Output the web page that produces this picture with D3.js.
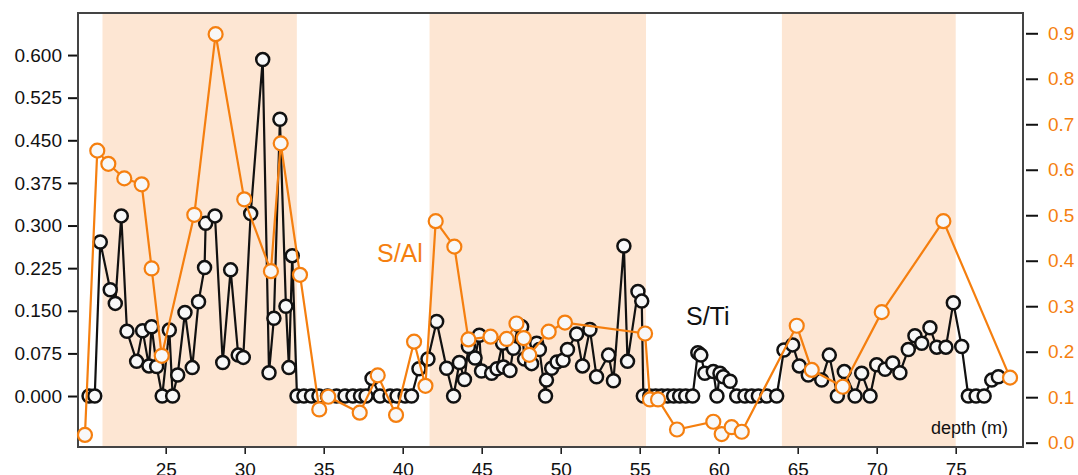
<!DOCTYPE html>
<html>
<head>
<meta charset="utf-8">
<script src="https://cdn.jsdelivr.net/npm/d3@7"></script>
<style>
  body { margin: 0; background: #fff; }
  text { font-family: "Liberation Sans", Arial, sans-serif; }
</style>
</head>
<body>
<div id="chart"></div>
<script>
// S/Ti series (black)
var depthTi = [20.15, 20.51, 20.86, 21.49, 21.81, 22.19, 22.55, 23.16, 23.54, 23.94, 24.11, 24.43, 24.78, 25.23, 25.44, 25.76, 26.22, 26.68, 27.08, 27.46, 27.53, 28.12, 28.61, 29.11, 29.59, 29.91, 30.38, 31.14, 31.54, 31.85, 32.23, 32.61, 32.80, 33.01,
  33.31, 33.75, 34.23, 34.70, 35.24, 35.81, 36.35, 36.85, 37.33, 37.68, 38.06, 38.56, 39.20, 39.64, 40.15, 40.56,
  41.03, 41.60, 42.15, 42.78, 43.22, 43.59, 43.91, 44.16, 44.58, 44.85, 44.99, 45.63, 45.97, 46.32, 46.38, 46.79, 47.01, 47.32, 47.53, 47.71, 48.16, 48.48, 48.65, 49.04, 49.10, 49.43, 49.77, 50.15, 50.43, 51.01, 51.38, 51.85, 52.27, 53.03, 53.34, 54.00, 54.23, 54.89, 55.13, 55.23,
  55.64, 56.01, 56.39, 56.77, 57.15, 57.53, 57.91, 58.35, 58.68, 58.87, 59.12, 59.66, 59.89, 60.08, 60.29, 60.72,
  61.14, 61.66, 62.09, 62.51, 63.04, 63.67, 64.13, 64.68, 65.10, 65.67, 66.52, 67.00, 67.51, 67.95, 68.63, 69.05, 69.58, 70.00, 70.53, 71.01, 71.47, 72.00, 72.42, 72.85, 73.37, 73.80, 74.38, 74.85, 75.38, 75.80, 76.29, 76.80, 77.28, 77.70];
var valTi = [0, 0, 0.271, 0.187, 0.163, 0.317, 0.114, 0.061, 0.115, 0.053, 0.122, 0.052, 0, 0.116, 0, 0.037, 0.147, 0.050, 0.166, 0.226, 0.304, 0.317, 0.059, 0.222, 0.072, 0.068, 0.321, 0.592, 0.041, 0.137, 0.487, 0.158, 0.050, 0.247,
  0, 0, 0, 0, 0, 0, 0, 0, 0, 0, 0.031, 0, 0, 0, 0, 0,
  0.048, 0.065, 0.131, 0.049, 0, 0.059, 0.029, 0.087, 0.067, 0.107, 0.044, 0.040, 0.048, 0.093, 0.051, 0.045, 0.084, 0.125, 0.122, 0.065, 0.057, 0.093, 0.082, 0, 0.028, 0.049, 0.060, 0.063, 0.082, 0.109, 0.053, 0.117, 0.034, 0.072, 0.027, 0.264, 0.061, 0.184, 0.167, 0,
  0, 0, 0, 0, 0, 0, 0, 0, 0.076, 0.072, 0.040, 0.043, 0, 0.040, 0.034, 0.026,
  0, 0, 0, 0, 0, 0, 0.081, 0.090, 0.053, 0.037, 0.028, 0.072, 0, 0.043, 0, 0.040, 0, 0.055, 0.047, 0.058, 0.041, 0.082, 0.106, 0.093, 0.120, 0.086, 0.086, 0.164, 0.087, 0, 0, 0, 0.028, 0.034];

// S/Al series (orange)
var depthAl = [19.89, 20.67, 21.37, 22.38, 23.48, 24.11, 24.75, 26.81, 28.16, 29.97, 31.66, 32.28, 33.50, 34.72, 35.29, 37.28, 38.42, 39.58, 40.72, 41.44, 42.09, 43.27, 44.16, 45.56, 46.58, 47.20, 47.66, 48.01, 49.24, 50.27, 55.34, 55.65, 56.16, 57.36, 59.66, 60.19, 60.82, 61.46, 64.94, 65.89, 67.85, 70.32, 74.22, 78.44];
var valAl = [0.017, 0.642, 0.613, 0.581, 0.568, 0.383, 0.191, 0.501, 0.898, 0.535, 0.377, 0.658, 0.369, 0.073, 0.101, 0.066, 0.148, 0.061, 0.222, 0.125, 0.487, 0.431, 0.227, 0.233, 0.228, 0.262, 0.230, 0.193, 0.244, 0.264, 0.240, 0.095, 0.095, 0.029, 0.046, 0.019, 0.034, 0.024, 0.257, 0.160, 0.123, 0.287, 0.487, 0.143];

// shaded depth intervals
var bandStart = [21.0, 41.7, 64.0];
var bandEnd = [33.3, 55.4, 75.0];

var xTicks = [25, 30, 35, 40, 45, 50, 55, 60, 65, 70, 75];
var leftTicks = [0, 0.075, 0.15, 0.225, 0.3, 0.375, 0.45, 0.525, 0.6];
var rightTicks = [0, 0.1, 0.2, 0.3, 0.4, 0.5, 0.6, 0.7, 0.8, 0.9];

var W = 1078, H = 475;
var plot = {left: 78, right: 1023, top: 13, bottom: 447};
var orange = "#f57f0f";
var font = "'Liberation Sans', Arial, sans-serif";

var svg = d3.select("#chart").append("svg")
  .attr("width", W)
  .attr("height", H);

var x = d3.scaleLinear().domain([19.45, 79.26]).range([plot.left, plot.right]);
var yL = d3.scaleLinear().domain([-0.0897, 0.674]).range([plot.bottom, plot.top]);
var yR = d3.scaleLinear().domain([-0.0095, 0.9446]).range([plot.bottom, plot.top]);

// bands
svg.selectAll(".band")
  .data(bandStart)
  .enter()
  .append("rect")
    .attr("x", function(d) { return x(d); })
    .attr("y", plot.top)
    .attr("width", function(d, i) { return x(bandEnd[i]) - x(d); })
    .attr("height", plot.bottom - plot.top)
    .attr("fill", "#fde6d3");

// axes
var gL = svg.append("g")
  .attr("transform", "translate(" + (plot.left - 1) + ",0)")
  .call(d3.axisLeft(yL).tickValues(leftTicks).tickSize(9).tickPadding(6)
    .tickFormat(d3.format(".3f")));
gL.select(".domain").remove();
gL.selectAll("line").attr("stroke", "#111").attr("stroke-width", 2);
gL.selectAll("text").attr("font-size", "19px").attr("fill", "#111").style("font-family", font);

var gR = svg.append("g")
  .attr("transform", "translate(" + (plot.right + 3) + ",0)")
  .call(d3.axisRight(yR).tickValues(rightTicks).tickSize(12).tickPadding(10)
    .tickFormat(d3.format(".1f")));
gR.select(".domain").remove();
gR.selectAll("line").attr("stroke", "#111").attr("stroke-width", 2);
gR.selectAll("text").attr("font-size", "19px").attr("fill", orange).style("font-family", font);

var gB = svg.append("g")
  .attr("transform", "translate(0," + (plot.bottom + 1) + ")")
  .call(d3.axisBottom(x).tickValues(xTicks).tickSize(6).tickPadding(9));
gB.select(".domain").remove();
gB.selectAll("line").attr("stroke", "#111").attr("stroke-width", 1.5);
gB.selectAll("text").attr("font-size", "19px").attr("fill", "#111").style("font-family", font);

// frame
svg.append("rect")
  .attr("x", plot.left).attr("y", plot.top)
  .attr("width", plot.right - plot.left).attr("height", plot.bottom - plot.top)
  .attr("fill", "none")
  .attr("stroke", "#444")
  .attr("stroke-width", 2);

// S/Ti line and markers
var tiData = depthTi.map(function(d, i) { return [d, valTi[i]]; });
svg.append("path")
  .datum(tiData)
  .attr("fill", "none")
  .attr("stroke", "#111")
  .attr("stroke-width", 2.2)
  .attr("d", d3.line().x(function(d) { return x(d[0]); }).y(function(d) { return yL(d[1]); }));
svg.selectAll(".ti")
  .data(tiData)
  .enter()
  .append("circle")
    .attr("cx", function(d) { return x(d[0]); })
    .attr("cy", function(d) { return yL(d[1]); })
    .attr("r", 6.5)
    .attr("fill", "#f8f8f8")
    .attr("stroke", "#111")
    .attr("stroke-width", 2.5);

// S/Al line and markers
var alData = depthAl.map(function(d, i) { return [d, valAl[i]]; });
svg.append("path")
  .datum(alData)
  .attr("fill", "none")
  .attr("stroke", orange)
  .attr("stroke-width", 2.2)
  .attr("d", d3.line().x(function(d) { return x(d[0]); }).y(function(d) { return yR(d[1]); }));
svg.selectAll(".al")
  .data(alData)
  .enter()
  .append("circle")
    .attr("cx", function(d) { return x(d[0]); })
    .attr("cy", function(d) { return yR(d[1]); })
    .attr("r", 7)
    .attr("fill", "#f8f8f8")
    .attr("stroke", orange)
    .attr("stroke-width", 2.2);

// labels
svg.append("text")
  .attr("x", 377).attr("y", 262)
  .attr("font-size", "25px")
  .attr("fill", orange)
  .text("S/Al");
svg.append("text")
  .attr("x", 686).attr("y", 325)
  .attr("font-size", "25px")
  .attr("fill", "#111")
  .text("S/Ti");
svg.append("text")
  .attr("x", 1008).attr("y", 434)
  .attr("text-anchor", "end")
  .attr("font-size", "18px")
  .attr("fill", "#111")
  .text("depth (m)");
</script>
</body>
</html>
